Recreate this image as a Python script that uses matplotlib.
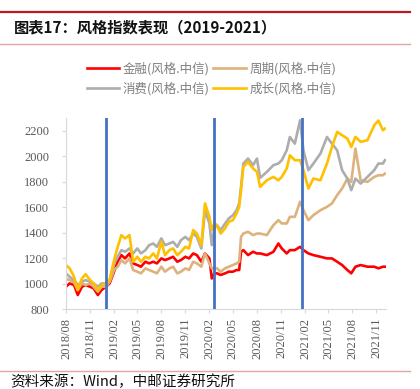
import matplotlib
matplotlib.use("Agg")
from matplotlib import pyplot as plt
from matplotlib.lines import Line2D
import matplotlib.dates as mdates
import pandas as pd

plt.rcParams['font.family'] = ['Noto Sans CJK SC', 'DejaVu Sans']

# data (dates follow the picture's x positions)
dates = ['2018-08-01', '2018-08-15', '2018-09-01', '2018-09-15', '2018-10-01', '2018-10-15',
         '2018-11-01', '2018-11-15', '2018-12-01', '2018-12-15', '2019-01-01', '2019-01-15',
         '2019-02-01', '2019-02-15', '2019-03-01', '2019-03-15', '2019-04-01', '2019-04-15',
         '2019-05-01', '2019-05-15', '2019-06-01', '2019-06-15', '2019-07-01', '2019-07-15',
         '2019-08-01', '2019-08-15', '2019-09-01', '2019-09-15', '2019-10-01', '2019-10-15',
         '2019-11-01', '2019-11-15', '2019-12-01', '2019-12-15', '2020-01-01', '2020-01-15',
         '2020-02-01', '2020-02-10', '2020-02-20', '2020-03-01', '2020-03-15', '2020-04-01',
         '2020-04-15', '2020-05-01', '2020-05-15', '2020-05-25', '2020-06-01', '2020-06-10',
         '2020-06-28', '2020-07-17', '2020-08-01', '2020-08-13', '2020-09-08', '2020-10-03',
         '2020-10-22', '2020-11-04', '2020-11-23', '2020-12-05', '2020-12-24', '2021-01-13',
         '2021-01-26', '2021-02-14', '2021-03-05', '2021-04-01', '2021-04-26', '2021-05-15',
         '2021-06-04', '2021-06-23', '2021-07-13', '2021-07-28', '2021-08-13', '2021-09-02',
         '2021-09-28', '2021-10-24', '2021-11-09', '2021-11-26', '2021-12-04']

finance = [977, 1003, 990, 912, 977, 990, 977, 964, 912, 951, 977, 1003,
           1095, 1173, 1225, 1199, 1238, 1160, 1147, 1134, 1173, 1160, 1173, 1160,
           1199, 1186, 1199, 1212, 1173, 1186, 1212, 1199, 1238, 1225, 1173, 1238,
           1199, 1042, 1082, 1082, 1069, 1082, 1095, 1095, 1108, 1108, 1251, 1264,
           1225, 1251, 1238, 1238, 1225, 1251, 1316, 1277, 1238, 1264, 1264, 1290,
           1264, 1238, 1225, 1212, 1199, 1199, 1173, 1147, 1108, 1082, 1134, 1147,
           1134, 1134, 1121, 1134, 1134]

cycle = [1040, 1030, 1010, 951, 1003, 990, 1003, 977, 938, 977, 977, 1016,
         1108, 1134, 1186, 1160, 1199, 1108, 1095, 1082, 1121, 1108, 1095, 1082,
         1134, 1095, 1121, 1134, 1082, 1095, 1121, 1108, 1173, 1160, 1134, 1238,
         1160, 1121, 1121, 1121, 1095, 1121, 1134, 1147, 1160, 1173, 1368, 1394,
         1408, 1382, 1394, 1394, 1382, 1460, 1499, 1473, 1473, 1525, 1525, 1643,
         1577, 1499, 1538, 1577, 1603, 1630, 1695, 1747, 1825, 1799, 2060, 1812,
         1799, 1838, 1851, 1851, 1864]

consumer = [1082, 1055, 1029, 990, 1016, 1029, 1016, 1003, 977, 1003, 1003, 1029,
            1160, 1212, 1264, 1251, 1277, 1238, 1277, 1238, 1264, 1303, 1316, 1290,
            1356, 1303, 1316, 1329, 1290, 1342, 1368, 1342, 1394, 1368, 1277, 1577,
            1473, 1303, 1434, 1460, 1421, 1473, 1512, 1538, 1577, 1630, 1760, 1943,
            1982, 1930, 1982, 1830, 1878, 1930, 1943, 1969, 2047, 2151, 2099, 2282,
            2047, 1891, 1943, 2021, 2151, 2099, 2047, 1891, 1825, 1734, 1825, 1786,
            1838, 1891, 1943, 1943, 1969]

growth = [1147, 1121, 1055, 951, 1042, 1075, 1029, 1003, 951, 990, 1003, 1029,
          1186, 1290, 1382, 1356, 1382, 1173, 1212, 1173, 1212, 1199, 1238, 1199,
          1329, 1225, 1264, 1277, 1225, 1251, 1290, 1277, 1421, 1394, 1303, 1630,
          1525, 1421, 1473, 1460, 1394, 1434, 1486, 1499, 1551, 1603, 1734, 1917,
          1956, 1904, 1878, 1760, 1812, 1838, 1812, 1838, 1904, 2008, 1969, 1969,
          1891, 1747, 1825, 1812, 1943, 2073, 2191, 2165, 2139, 2073, 2152, 2113,
          2126, 2243, 2280, 2204, 2217]

labels = ['金融(风格.中信)', '周期(风格.中信)', '消费(风格.中信)', '成长(风格.中信)']
colors = ['#FF0000', '#DDB27C', '#ADADAD', '#FFC000']
markers = ['2019-01-02', '2020-02-19', '2021-01-20']

x = pd.to_datetime(dates)
W, H = 420, 389
fig = plt.figure(figsize=(W / 100, H / 100), dpi=100)

# header / footer rules and texts
fig.add_artist(Line2D([0, 410 / W], [1 - 12 / H] * 2, color='#C0171E', lw=1.6))
fig.text(14 / W, 1 - 27 / H, '图表17：风格指数表现（2019-2021）', fontsize=11,
         fontweight='bold', va='center', ha='left', color='#111111')
fig.add_artist(Line2D([0, 410 / W], [1 - 44 / H] * 2, color='#E8A3A3', lw=1.0))
fig.add_artist(Line2D([0, 410 / W], [1 - 371 / H] * 2, color='#E8A3A3', lw=1.0))
fig.text(10 / W, 1 - 375 / H, '资料来源：Wind，中邮证券研究所', fontsize=10.5,
         va='top', ha='left', color='#111111')

ax = fig.add_axes([66 / W, 1 - 309.3 / H, 320 / W, (309.3 - 118) / H])
lines = []
for vals, c, lab in zip([finance, cycle, consumer, growth], colors, labels):
    ln, = ax.plot(x, vals, color=c, lw=1.9, label=lab, solid_joinstyle='round')
    lines.append(ln)

for d in markers:
    ax.axvline(pd.Timestamp(d), color='#4472C4', lw=2.0, zorder=5)

ax.set_ylim(800, 2300)
ax.set_yticks(range(800, 2201, 200))
ax.set_xlim(pd.Timestamp('2018-08-01'), pd.Timestamp('2021-12-08'))
ax.xaxis.set_major_locator(mdates.MonthLocator(bymonth=[2, 5, 8, 11]))
ax.xaxis.set_major_formatter(mdates.DateFormatter('%Y/%m'))

for s in ['top', 'right']:
    ax.spines[s].set_visible(False)
for s in ['left', 'bottom']:
    ax.spines[s].set_color('#D9D9D9')
    ax.spines[s].set_linewidth(0.8)
ax.tick_params(axis='both', colors='#D9D9D9', length=3, width=0.8, direction='out')
ax.tick_params(axis='y', pad=9)
ax.tick_params(axis='x', pad=3)
for t in ax.get_yticklabels():
    t.set_family('Liberation Serif'); t.set_fontsize(9); t.set_color('#595959')
for t in ax.get_xticklabels():
    t.set_family('Liberation Serif'); t.set_fontsize(9); t.set_color('#595959')
    t.set_rotation(90)

# legend fills column-wise, so order handles to give rows 金融/周期 and 消费/成长
order = [0, 2, 1, 3]
fig.legend(handles=[lines[i] for i in order], loc='center',
           bbox_to_anchor=(211.5 / W, 1 - 78.5 / H),
           ncol=2, frameon=False, fontsize=9, handlelength=2.6, handletextpad=0.3,
           columnspacing=0.3, labelspacing=0.55, labelcolor='#7F7F7F')

fig.savefig('out.png', dpi=100)
